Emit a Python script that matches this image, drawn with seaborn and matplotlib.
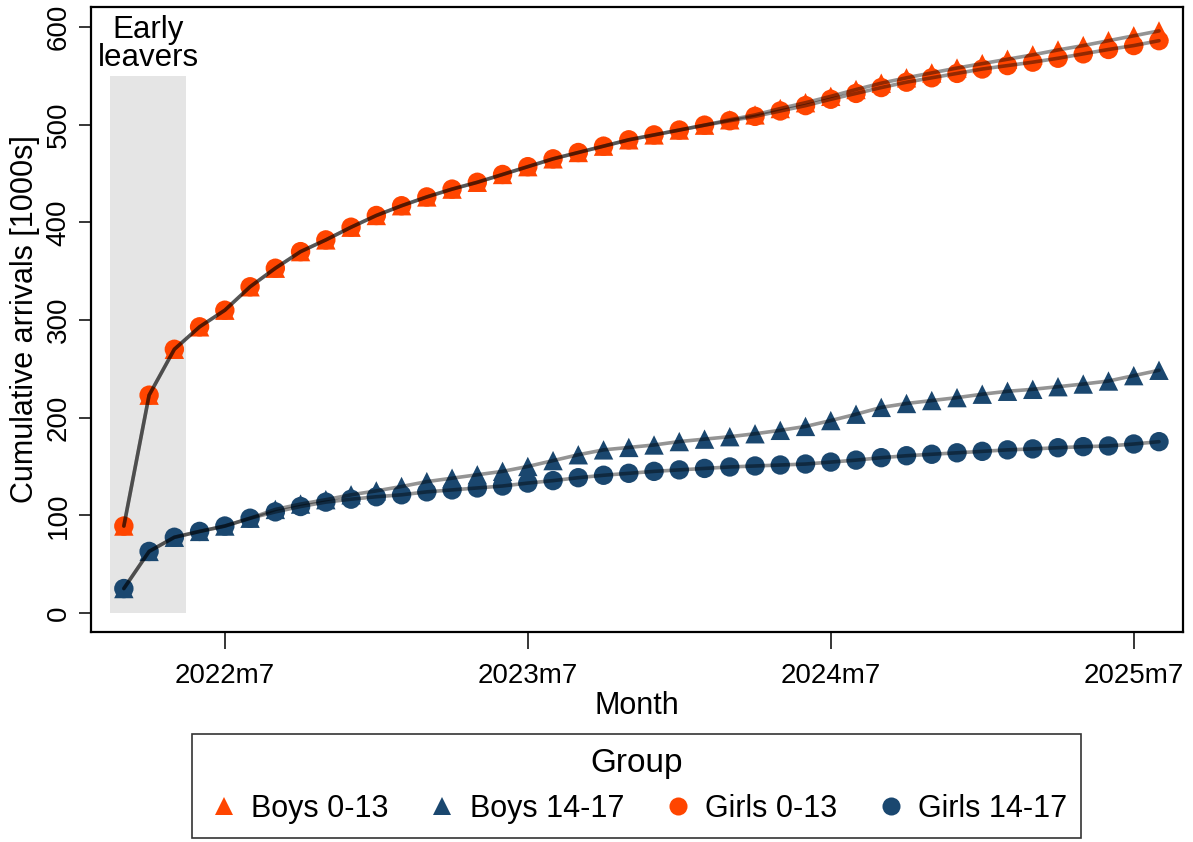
import numpy as np
import pandas as pd
import matplotlib
matplotlib.use("Agg")
import matplotlib.pyplot as plt
import seaborn as sns
from matplotlib.lines import Line2D
from matplotlib.patches import Rectangle

# Monthly categories, 2022m3 .. 2025m8
month_labels = [f"{p.year}m{p.month}" for p in pd.period_range("2022-03", "2025-08", freq="M")]
tick_labels = ["2022m7", "2023m7", "2024m7", "2025m7"]
y_ticks = [0, 100, 200, 300, 400, 500, 600]

# Cumulative arrivals, thousands
boys_0_13 = [89, 223, 270, 293, 310, 334, 353, 370, 382, 395, 407, 417, 426, 434,
             441, 449, 457, 465, 471.5, 478, 484.5, 489.5, 494.5, 499.5, 505, 510,
             516.5, 522.5, 529, 536, 542.5, 548, 553, 558, 562.5, 567, 571.5, 576.5,
             581, 586, 591, 596]
girls_0_13 = [89, 223, 270, 293, 310, 334, 353, 370, 382, 395, 407, 417, 426, 434,
              441, 449, 457, 465, 471.5, 478, 484.5, 489.5, 494.5, 499.5, 504, 508.5,
              514, 519.5, 526, 532, 538, 543.5, 548, 552.5, 557, 560.5, 564, 568,
              572.5, 577, 581, 586]
boys_14_17 = [25, 63, 77.5, 83.5, 89, 97, 106, 111.5, 116, 121, 125, 129.5, 134.5,
              138, 141.5, 145, 150, 156, 162, 167, 169.5, 172, 175.5, 178, 180.5,
              183.5, 187, 191, 197, 203.5, 210.5, 214.5, 217.5, 220.5, 224, 227, 229,
              231.7, 234.4, 237.5, 243, 248.5]
girls_14_17 = [25, 63, 77.5, 83.5, 89, 97, 103.5, 109, 113.5, 116.5, 119, 121, 124,
               126, 128, 130, 133, 135.5, 138.5, 141, 143, 145, 146.5, 148, 149.5,
               150.5, 151.5, 152.5, 154.5, 156.5, 159, 161, 162.5, 164, 165.5, 167,
               168, 169.2, 170.3, 171, 173, 175.4]

groups = ["Boys 0-13", "Boys 14-17", "Girls 0-13", "Girls 14-17"]
series = [boys_0_13, boys_14_17, girls_0_13, girls_14_17]

ORANGE = "#ff4500"
NAVY = "#1a476f"
palette = {"Boys 0-13": ORANGE, "Boys 14-17": NAVY, "Girls 0-13": ORANGE, "Girls 14-17": NAVY}
markers = {"Boys 0-13": "^", "Boys 14-17": "^", "Girls 0-13": "o", "Girls 14-17": "o"}

frames = []
for g, vals in zip(groups, series):
    frames.append(pd.DataFrame({"month": month_labels,
                                "idx": np.arange(len(month_labels)),
                                "value": vals,
                                "group": g}))
df = pd.concat(frames, ignore_index=True)

sns.set_theme(style="white")
plt.rcParams["font.family"] = ["Liberation Sans", "DejaVu Sans"]
plt.rcParams.update({"text.color": "black", "axes.labelcolor": "black",
                     "xtick.color": "black", "ytick.color": "black"})

fig = plt.figure(figsize=(11.93, 8.42), dpi=100)
ax = fig.add_axes([0.0763, 0.2494, 0.9153, 0.7423])

# Early-leavers window
ax.add_patch(Rectangle((-0.54, 0), 3.0, 550, facecolor="#e5e5e5", edgecolor="none", zorder=0))
ax.text(0.96, 553, "Early\nleavers", ha="center", va="bottom", fontsize=22.5, linespacing=0.92)

sns.scatterplot(data=df, x="idx", y="value", hue="group", style="group",
                palette=palette, markers=markers, s=195, linewidth=0,
                legend=False, ax=ax, zorder=2)
sns.lineplot(data=df, x="idx", y="value", units="group", estimator=None,
             color="black", alpha=0.42, linewidth=2.6, legend=False, ax=ax, zorder=3)

ax.set_xlim(-1.3, 41.95)
ax.set_ylim(-19.5, 620.5)

tick_pos = [month_labels.index(t) for t in tick_labels]
ax.set_xticks(tick_pos)
ax.set_xticklabels(tick_labels, fontsize=20)
ax.set_yticks(y_ticks)
ax.set_yticklabels([str(v) for v in y_ticks], fontsize=20, rotation=90, va="center")
ax.tick_params(axis="x", bottom=True, length=12, width=1.1, direction="out", pad=10)
ax.tick_params(axis="y", left=True, length=9, width=1.1, direction="out", pad=5)

ax.set_xlabel("Month", fontsize=22, labelpad=2)
ax.set_ylabel("Cumulative arrivals [1000s]", fontsize=22, labelpad=4)

for sp in ax.spines.values():
    sp.set_color("black")
    sp.set_linewidth(1.6)

handles = [Line2D([], [], linestyle="none", marker=markers[g], markersize=13,
                  markerfacecolor=palette[g], markeredgewidth=0) for g in groups]
leg = fig.legend(handles, groups, title="Group", loc="lower center",
                 bbox_to_anchor=(0.5335, 0.005), ncol=4, frameon=True, fancybox=False,
                 edgecolor="black", fontsize=22, title_fontsize=24,
                 handletextpad=0.3, columnspacing=1.15, borderpad=0.45, handlelength=1.2,
                 borderaxespad=0)
leg.get_frame().set_linewidth(1.2)

fig.savefig("out.png", dpi=100, facecolor="white")
